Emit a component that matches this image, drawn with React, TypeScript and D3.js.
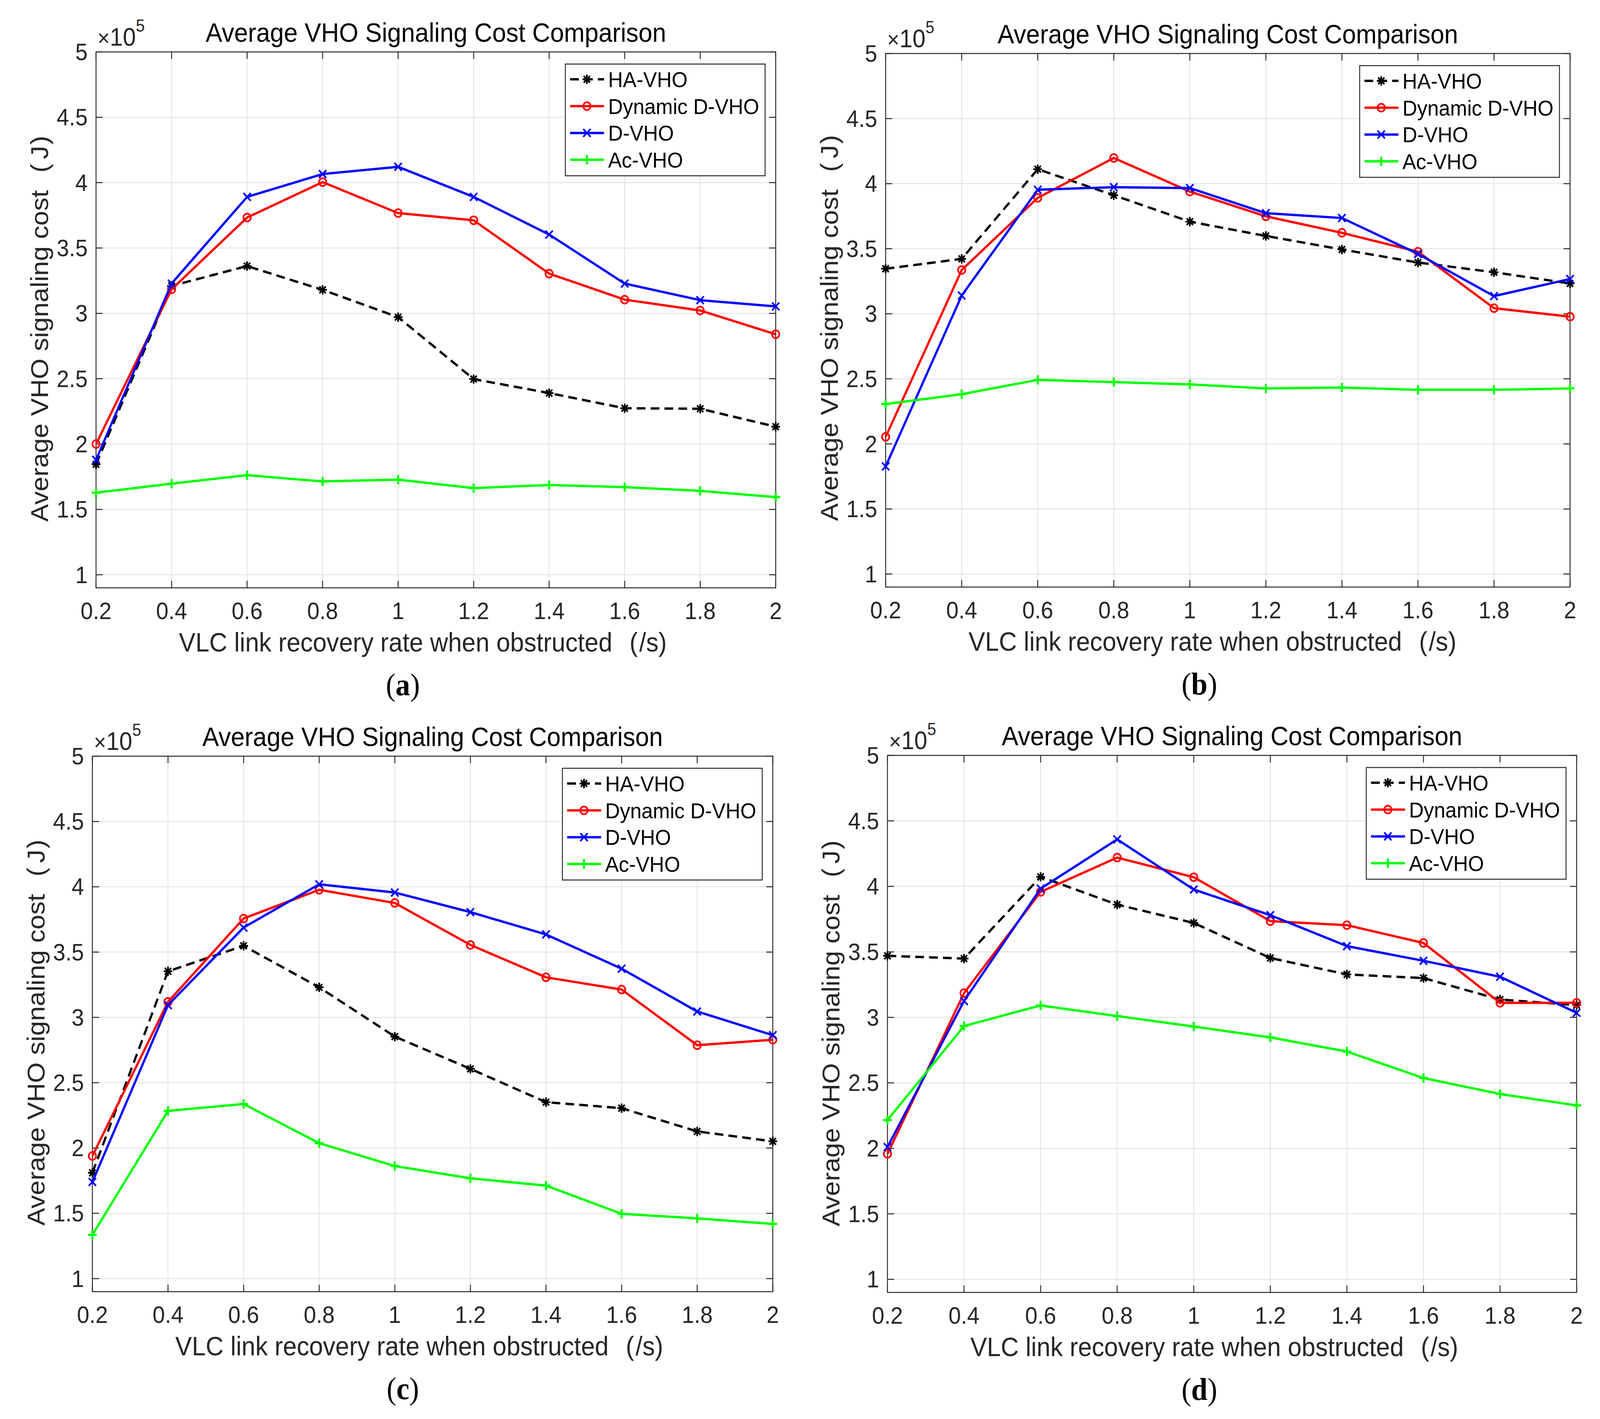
import { useEffect } from 'react';
import { line, range, scaleLinear } from 'd3';

// x positions shared by every panel
const xValues = [0.2, 0.4, 0.6, 0.8, 1.0, 1.2, 1.4, 1.6, 1.8, 2.0];
const xTicks = [0.2, 0.4, 0.6, 0.8, 1, 1.2, 1.4, 1.6, 1.8, 2];
const yTicks = [1, 1.5, 2, 2.5, 3, 3.5, 4, 4.5, 5];
const seriesNames = ['HA-VHO', 'Dynamic D-VHO', 'D-VHO', 'Ac-VHO'];
const panelLabels = ['a', 'b', 'c', 'd'];

// values in units of 10^5 J
const haA = [1.845, 3.21, 3.362, 3.18, 2.971, 2.497, 2.39, 2.274, 2.27, 2.133];
const dynA = [2.0, 3.184, 3.733, 4.004, 3.767, 3.712, 3.304, 3.105, 3.022, 2.84];
const dA = [1.879, 3.228, 3.891, 4.066, 4.121, 3.891, 3.603, 3.228, 3.101, 3.053];
const acA = [1.628, 1.697, 1.762, 1.714, 1.728, 1.663, 1.687, 1.67, 1.642, 1.594];

const haB = [3.346, 3.422, 4.111, 3.911, 3.708, 3.598, 3.494, 3.394, 3.319, 3.233];
const dynB = [2.054, 3.336, 3.891, 4.197, 3.939, 3.749, 3.622, 3.477, 3.043, 2.978];
const dB = [1.827, 3.14, 3.953, 3.973, 3.966, 3.773, 3.736, 3.46, 3.136, 3.267];
const acB = [2.306, 2.382, 2.492, 2.475, 2.457, 2.426, 2.433, 2.416, 2.416, 2.426];

const haC = [1.81, 3.353, 3.548, 3.23, 2.853, 2.606, 2.351, 2.305, 2.127, 2.051];
const dynC = [1.939, 3.119, 3.757, 3.977, 3.876, 3.555, 3.307, 3.213, 2.787, 2.829];
const dC = [1.74, 3.094, 3.688, 4.019, 3.956, 3.806, 3.635, 3.373, 3.045, 2.864];
const acC = [1.335, 2.284, 2.337, 2.037, 1.862, 1.768, 1.712, 1.496, 1.461, 1.419];

const haD = [3.47, 3.449, 4.073, 3.861, 3.721, 3.453, 3.328, 3.3, 3.136, 3.094];
const dynD = [1.958, 3.185, 3.958, 4.22, 4.07, 3.735, 3.704, 3.568, 3.111, 3.111];
const dD = [2.01, 3.125, 3.983, 4.359, 3.976, 3.78, 3.544, 3.432, 3.31, 3.035];
const acD = [2.216, 2.934, 3.091, 3.01, 2.93, 2.847, 2.739, 2.537, 2.415, 2.328];

const styles = [
  { color: '#000000', marker: 'star', dash: '24 14' },
  { color: '#ff0000', marker: 'circle', dash: undefined },
  { color: '#0000ff', marker: 'cross', dash: undefined },
  { color: '#00ff00', marker: 'plus', dash: undefined },
];

const SANS = '"Liberation Sans", Arial, Helvetica, sans-serif';
const AXIS = '#262626';

function Marker({ type, x, y, color }: { type: string; x: number; y: number; color: string }) {
  const s = 12;
  const sw = 4.5;
  if (type === 'circle') {
    return <circle cx={x} cy={y} r={10} fill="none" stroke={color} strokeWidth={sw} />;
  }
  if (type === 'cross') {
    const c = 10;
    return (
      <path d={`M${x - c},${y - c}L${x + c},${y + c}M${x - c},${y + c}L${x + c},${y - c}`} stroke={color} strokeWidth={sw} />
    );
  }
  if (type === 'plus') {
    return <path d={`M${x - s},${y}L${x + s},${y}M${x},${y - s}L${x},${y + s}`} stroke={color} strokeWidth={sw + 1} />;
  }
  const c = s * 0.72;
  return (
    <path
      d={`M${x - s},${y}L${x + s},${y}M${x},${y - s}L${x},${y + s}M${x - c},${y - c}L${x + c},${y + c}M${x - c},${y + c}L${x + c},${y - c}`}
      stroke={color}
      strokeWidth={sw}
    />
  );
}

interface PanelProps {
  left: number;
  top: number;
  width: number;
  height: number;
  labelX: number;
  label: string;
  series: number[][];
}

function Panel({ left, top, width, height, labelX, label, series }: PanelProps) {
  const x = scaleLinear().domain([0.2, 2]).range([left, left + width]);
  const y = scaleLinear().domain([0.9, 5]).range([top + height, top]);
  const bottom = top + height;
  const right = left + width;
  const tick = 18;
  const path = line<number>()
    .x((_, i) => x(xValues[i]))
    .y((d) => y(d));

  const legW = 547;
  const legH = 286;
  const legX = right - 29 - legW;
  const legY = top + 31;

  return (
    <g>
      {/* grid */}
      {xTicks.map((t) => (
        <line key={`gx${t}`} x1={x(t)} x2={x(t)} y1={top} y2={bottom} stroke="#dfdfdf" strokeWidth={2} />
      ))}
      {yTicks.map((t) => (
        <line key={`gy${t}`} x1={left} x2={right} y1={y(t)} y2={y(t)} stroke="#dfdfdf" strokeWidth={2} />
      ))}

      {/* ticks on all four sides */}
      {xTicks.map((t) => (
        <g key={`tx${t}`} stroke={AXIS} strokeWidth={2.5}>
          <line x1={x(t)} x2={x(t)} y1={bottom} y2={bottom - tick} />
          <line x1={x(t)} x2={x(t)} y1={top} y2={top + tick} />
        </g>
      ))}
      {yTicks.map((t) => (
        <g key={`ty${t}`} stroke={AXIS} strokeWidth={2.5}>
          <line x1={left} x2={left + tick} y1={y(t)} y2={y(t)} />
          <line x1={right} x2={right - tick} y1={y(t)} y2={y(t)} />
        </g>
      ))}
      <rect x={left} y={top} width={width} height={height} fill="none" stroke={AXIS} strokeWidth={2.5} />

      {/* series */}
      {series.map((vals, si) => (
        <g key={seriesNames[si]}>
          <path d={path(vals) ?? ''} fill="none" stroke={styles[si].color} strokeWidth={6} strokeDasharray={styles[si].dash} strokeLinejoin="round" />
          {vals.map((v, i) => (
            <Marker key={i} type={styles[si].marker} x={x(xValues[i])} y={y(v)} color={styles[si].color} />
          ))}
        </g>
      ))}

      {/* tick labels */}
      {xTicks.map((t) => (
        <text key={`lx${t}`} x={x(t)} y={bottom + 80} textAnchor="middle" fontSize={61} fill={AXIS} fontFamily={SANS}>
          {String(t)}
        </text>
      ))}
      {yTicks.map((t) => (
        <text key={`ly${t}`} x={left - 23} y={y(t) + 21} textAnchor="end" fontSize={61} fill={AXIS} fontFamily={SANS}>
          {String(t)}
        </text>
      ))}

      {/* exponent */}
      <text x={left + 4} y={top - 16} fontSize={64} fill={AXIS} fontFamily={SANS}>
        <tspan fontSize={58}>×</tspan>
        <tspan>10</tspan>
        <tspan fontSize={44} dy={-36}>5</tspan>
      </text>

      {/* title and axis labels */}
      <text x={(left + right) / 2} y={top - 26} textAnchor="middle" fontSize={68} fill="#000" fontFamily={SANS}>
        Average VHO Signaling Cost Comparison
      </text>
      <text x={left + 227} y={bottom + 163} fontSize={68} fill={AXIS} fontFamily={SANS}>
        VLC link recovery rate when obstructed
        <tspan dx={47}>(</tspan>
        <tspan dx={4}>/s)</tspan>
      </text>
      <text
        transform={`translate(${left - 131},${bottom - 169}) rotate(-90)`}
        fontSize={68}
        fill={AXIS}
        fontFamily={SANS}
      >
        Average VHO signaling cost
        <tspan dx={45}>(</tspan>
        <tspan dx={12}>J</tspan>
        <tspan dx={3}>)</tspan>
      </text>

      {/* legend */}
      <rect x={legX} y={legY} width={legW} height={legH} fill="#fff" stroke={AXIS} strokeWidth={2.5} />
      {seriesNames.map((name, si) => {
        const cy = legY + 39 + si * 68.7;
        return (
          <g key={`leg${name}`}>
            <line x1={legX + 13} x2={legX + 106} y1={cy} y2={cy} stroke={styles[si].color} strokeWidth={6} strokeDasharray={styles[si].dash} />
            <Marker type={styles[si].marker} x={legX + 59} y={cy} color={styles[si].color} />
            <text x={legX + 117} y={cy + 20} fontSize={56} fill="#000" fontFamily={SANS}>
              {name}
            </text>
          </g>
        );
      })}

      {/* sub-figure label */}
      <text x={labelX} y={bottom + 275} textAnchor="middle" fontSize={80} fill="#000" fontFamily='"Liberation Serif", "Times New Roman", serif'>
        (<tspan fontWeight="bold">{label}</tspan>)
      </text>
    </g>
  );
}

const panelBoxes = [
  { left: 263, top: 133, width: 1861, height: 1372, labelX: 1103 },
  { left: 2425, top: 137, width: 1874, height: 1366, labelX: 3284 },
  { left: 253, top: 1936, width: 1863, height: 1371, labelX: 1103 },
  { left: 2430, top: 1934, width: 1887, height: 1375, labelX: 3284 },
];

const panelSeries = [
  [haA, dynA, dA, acA],
  [haB, dynB, dB, acB],
  [haC, dynC, dC, acC],
  [haD, dynD, dD, acD],
];

export default function App() {
  useEffect(() => {
    document.body.style.margin = '0';
    document.body.style.overflow = 'hidden';
  }, []);

  // the figure is stretched to fill the viewport whatever its size
  return (
    <svg
      viewBox="0 0 4381 3633"
      preserveAspectRatio="none"
      style={{ position: 'fixed', left: 0, top: 0, width: '100vw', height: '100vh', display: 'block', background: '#fff' }}
    >
      <rect width={4381} height={3633} fill="#fff" />
      {range(4).map((i) => (
        <Panel key={i} {...panelBoxes[i]} label={panelLabels[i]} series={panelSeries[i]} />
      ))}
    </svg>
  );
}
